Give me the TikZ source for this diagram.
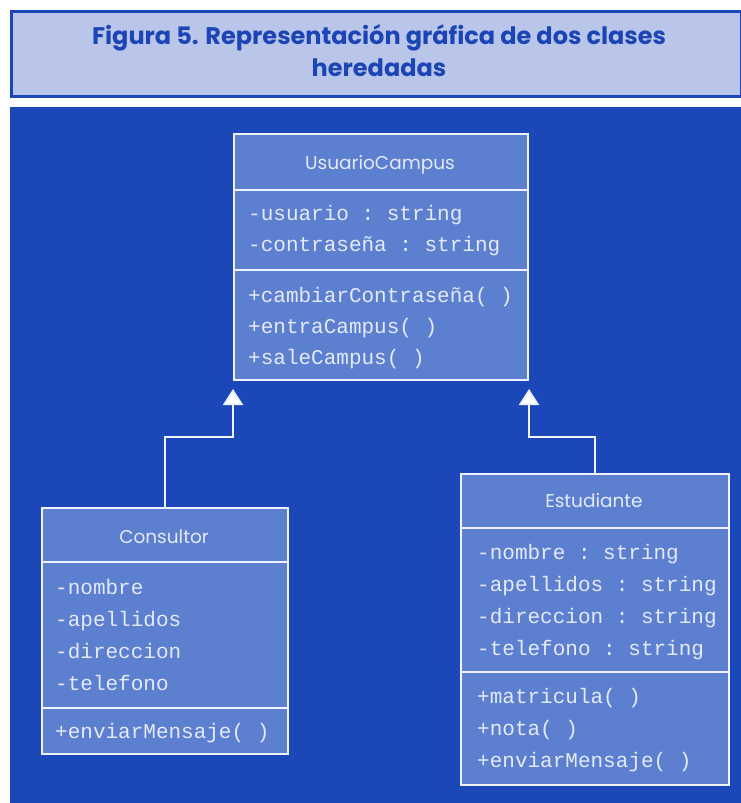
\documentclass[tikz,border=0pt]{standalone}
\usepackage{fontspec}
\setmainfont{Poppins}
\setmonofont{Liberation Mono}
\usetikzlibrary{arrows.meta}
\definecolor{panel}{HTML}{1B47B9}
\definecolor{classfill}{HTML}{5C7FD0}
\definecolor{titlefill}{HTML}{B9C6E9}
\definecolor{titletext}{HTML}{1B44B5}
\definecolor{txt}{HTML}{E4EAF8}
\definecolor{edge}{HTML}{EEF2FB}
\tikzset{
  classbox/.style={draw=edge, line width=2pt, fill=classfill, anchor=north west, inner sep=0pt},
  divider/.style={draw=edge, line width=2pt},
  cname/.style={text=txt, font=\fontsize{18.5}{20}\selectfont, inner sep=0pt, text height=19pt, text depth=4pt},
  mono/.style={text=txt, font=\ttfamily\fontsize{21}{24}\selectfont, anchor=west, inner sep=0pt, text height=20pt, text depth=5pt},
  inh/.style={draw=edge, line width=2pt, -{Triangle[width=20pt,length=16pt,fill=white]}},
}
\begin{document}
\begin{tikzpicture}[x=1pt,y=-1pt]
\useasboundingbox (0,0) rectangle (741,803);
% title
\node[draw=panel, line width=3pt, fill=titlefill, minimum width=730pt, minimum height=85pt, anchor=north west, inner sep=0pt] (titlebox) at (10,10) {};
\node[text=titletext, font=\fontsize{24}{32}\selectfont\bfseries, align=center, inner sep=0pt] (title) at (379,51) {Figura 5. Representación gráfica de dos clases\\heredadas};
% panel
\node[fill=panel, minimum width=731pt, minimum height=696pt, anchor=north west, inner sep=0pt] (panel) at (10,107) {};
% UsuarioCampus
\node[classbox, minimum width=294pt, minimum height=246pt] (uc) at (233,133) {};
\draw[divider] (uc.west |- 0,190) -- (uc.east |- 0,190);
\draw[divider] (uc.west |- 0,270) -- (uc.east |- 0,270);
\node[cname] (uct) at (380,162) {UsuarioCampus};
\node[mono] (uca1) at (248,213) {-usuario : string};
\node[mono] (uca2) at (248,244) {-contraseña : string};
\node[mono] (ucm1) at (248,295) {+cambiarContraseña( )};
\node[mono] (ucm2) at (248,326) {+entraCampus( )};
\node[mono] (ucm3) at (248,357) {+saleCampus( )};
% Consultor
\node[classbox, minimum width=246pt, minimum height=246pt] (co) at (41,507) {};
\draw[divider] (co.west |- 0,562) -- (co.east |- 0,562);
\draw[divider] (co.west |- 0,708) -- (co.east |- 0,708);
\node[cname] (cot) at (164,536) {Consultor};
\node[mono] (coa1) at (55,587) {-nombre};
\node[mono] (coa2) at (55,619) {-apellidos};
\node[mono] (coa3) at (55,651) {-direccion};
\node[mono] (coa4) at (55,683) {-telefono};
\node[mono] (com1) at (55,731) {+enviarMensaje( )};
% Estudiante
\node[classbox, minimum width=268pt, minimum height=311pt] (es) at (460,473) {};
\draw[divider] (es.west |- 0,528) -- (es.east |- 0,528);
\draw[divider] (es.west |- 0,672) -- (es.east |- 0,672);
\node[cname] (est) at (594,500) {Estudiante};
\node[mono] (esa1) at (477,552) {-nombre : string};
\node[mono] (esa2) at (477,584) {-apellidos : string};
\node[mono] (esa3) at (477,616) {-direccion : string};
\node[mono] (esa4) at (477,648) {-telefono : string};
\node[mono] (esm1) at (477,696) {+matricula( )};
\node[mono] (esm2) at (477,728) {+nota( )};
\node[mono] (esm3) at (477,760) {+enviarMensaje( )};
% inheritance
\coordinate (tipL) at ([yshift=-8pt]uc.south west);
\coordinate (tipR) at ([yshift=-8pt]uc.south east);
\coordinate (bendL) at (tipL |- 0,437);
\coordinate (bendR) at (tipR |- 0,437);
\draw[inh] (co.north) |- (bendL) -- (tipL);
\draw[inh] (es.north) |- (bendR) -- (tipR);
\end{tikzpicture}
\end{document}
